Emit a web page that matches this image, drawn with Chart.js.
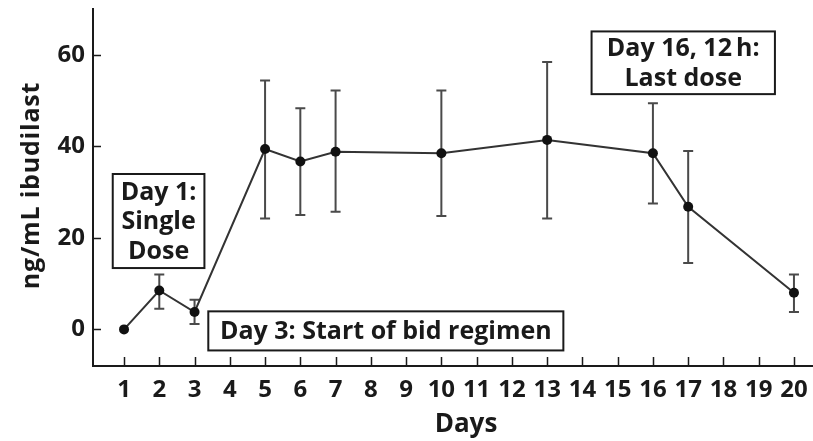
<!DOCTYPE html>
<html><head><meta charset="utf-8">
<script src="https://cdn.jsdelivr.net/npm/chart.js@4/dist/chart.umd.min.js"></script>
<style>html,body{margin:0;padding:0;background:#fff}#wrap{width:813px;height:441px}</style>
</head><body><div id="wrap"><canvas id="c" width="813" height="441"></canvas></div>
<script>
// ---- data ----
const days = [1, 2, 3, 5, 6, 7, 10, 13, 16, 17, 20];
const meanConc = [0, 8.5, 3.8, 39.4, 36.7, 38.8, 38.5, 41.4, 38.5, 26.8, 8.0];
const upperConc = [0, 12.0, 6.5, 54.4, 48.3, 52.2, 52.2, 58.4, 49.4, 39.0, 12.0];
const lowerConc = [0, 4.5, 1.2, 24.2, 25.0, 25.7, 24.8, 24.2, 27.5, 14.5, 3.8];
const xTickValues = [1,2,3,4,5,6,7,8,9,10,11,12,13,14,15,16,17,18,19,20];
const yTickValues = [0, 20, 40, 60];
const xTitle = 'Days';
const yTitle = 'ng/mL ibudilast';
const noteTexts = [
  ['Day 1:', 'Single', 'Dose'],
  ['Day 3: Start of bid regimen'],
  ['Day 16, 12\u2009h:', 'Last dose']
];
// annotation box placement (data coordinates), kept apart from values
const noteBoxes = [
  {x0: 0.68, x1: 3.28, y0: 33.95, y1: 13.4},
  {x0: 3.39, x1: 13.46, y0: 3.94, y1: -4.6},
  {x0: 14.26, x1: 19.46, y0: 65.1, y1: 51.4}
];

const FONT = '"Open Sans", Lato, sans-serif';
const INK = '#1a1a1a';

const errorBars = {
  id: 'errorBars',
  beforeDatasetsDraw(chart) {
    const {ctx, scales: {x, y}} = chart;
    ctx.save();
    ctx.strokeStyle = '#4a4a4a';
    ctx.lineWidth = 2;
    days.forEach((d, i) => {
      if (upperConc[i] === lowerConc[i]) return;
      const px = x.getPixelForValue(d);
      const pt = y.getPixelForValue(upperConc[i]);
      const pb = y.getPixelForValue(lowerConc[i]);
      ctx.beginPath();
      ctx.moveTo(px, pt); ctx.lineTo(px, pb);
      ctx.moveTo(px - 5, pt); ctx.lineTo(px + 5, pt);
      ctx.moveTo(px - 5, pb); ctx.lineTo(px + 5, pb);
      ctx.stroke();
    });
    ctx.restore();
  }
};

const innerTicks = {
  id: 'innerTicks',
  afterDraw(chart) {
    const {ctx, chartArea: a, scales: {x, y}} = chart;
    ctx.save();
    ctx.strokeStyle = INK;
    ctx.lineWidth = 1.5;
    ctx.beginPath();
    xTickValues.forEach(v => {
      const px = Math.round(x.getPixelForValue(v)) + 0.5;
      ctx.moveTo(px, a.bottom); ctx.lineTo(px, a.bottom - 9);
    });
    yTickValues.forEach(v => {
      const py = Math.round(y.getPixelForValue(v)) + 0.5;
      ctx.moveTo(a.left, py); ctx.lineTo(a.left + 8, py);
    });
    ctx.stroke();
    ctx.restore();
  }
};

const axisTitles = {
  id: 'axisTitles',
  afterDraw(chart) {
    const {ctx, chartArea: a} = chart;
    ctx.save();
    ctx.fillStyle = INK;
    ctx.textAlign = 'center';
    ctx.textBaseline = 'middle';
    ctx.font = 'bold 26px ' + FONT;
    ctx.fillText(xTitle, (a.left + a.right) / 2 + 13, 425);
    ctx.translate(32, (a.top + a.bottom) / 2 - 2);
    ctx.rotate(-Math.PI / 2);
    ctx.font = 'bold 25px ' + FONT;
    ctx.letterSpacing = '0.8px';
    ctx.fillText(yTitle, 0, 0);
    ctx.restore();
  }
};

const notesPlugin = {
  id: 'notes',
  afterDraw(chart) {
    const {ctx, scales: {x, y}} = chart;
    ctx.save();
    noteBoxes.forEach((b, i) => {
      const l = x.getPixelForValue(b.x0), r = x.getPixelForValue(b.x1);
      const t = y.getPixelForValue(b.y0), bt = y.getPixelForValue(b.y1);
      ctx.fillStyle = '#fff';
      ctx.fillRect(l, t, r - l, bt - t);
      ctx.strokeStyle = INK;
      ctx.lineWidth = 2;
      ctx.strokeRect(l, t, r - l, bt - t);
      const lines = noteTexts[i];
      const lh = 29.5;
      const cx = (l + r) / 2, cy = (t + bt) / 2;
      ctx.fillStyle = INK;
      ctx.font = 'bold 25px ' + FONT;
      ctx.textAlign = 'center';
      ctx.textBaseline = 'middle';
      lines.forEach((s, k) => {
        ctx.fillText(s, cx, cy + (k - (lines.length - 1) / 2) * lh + 1);
      });
    });
    ctx.restore();
  }
};

new Chart(document.getElementById('c'), {
  type: 'scatter',
  data: {
    datasets: [{
      data: days.map((d, i) => ({x: d, y: meanConc[i]})),
      showLine: true,
      borderColor: '#333',
      borderWidth: 2,
      pointRadius: 5,
      pointBackgroundColor: '#111',
      pointBorderColor: '#111',
      pointBorderWidth: 0,
      tension: 0
    }]
  },
  options: {
    responsive: false,
    animation: false,
    devicePixelRatio: 1,
    layout: {autoPadding: false, padding: {top: 9, right: 0, bottom: 0, left: 0}},
    plugins: {legend: {display: false}, tooltip: {enabled: false}},
    scales: {
      x: {
        type: 'linear', min: 0.12, max: 20.54,
        afterBuildTicks: s => { s.ticks = xTickValues.map(v => ({value: v})); },
        afterFit: s => { s.height = 75; s.paddingLeft = 0; s.paddingRight = 0; },
        grid: {display: false, drawTicks: false},
        border: {display: true, color: INK, width: 2},
        ticks: {autoSkip: false, maxRotation: 0, padding: 10, color: INK,
                font: {family: FONT, weight: 'bold', size: 24}},
        title: {display: false}
      },
      y: {
        min: -8, max: 70,
        afterBuildTicks: s => { s.ticks = yTickValues.map(v => ({value: v})); },
        afterFit: s => { s.width = 93; s.paddingTop = 0; s.paddingBottom = 0; },
        grid: {display: false, drawTicks: false},
        border: {display: true, color: INK, width: 2},
        ticks: {padding: 8, color: INK, font: {family: FONT, weight: 'bold', size: 24}},
        title: {display: false}
      }
    }
  },
  plugins: [errorBars, innerTicks, notesPlugin, axisTitles]
});
</script></body></html>
